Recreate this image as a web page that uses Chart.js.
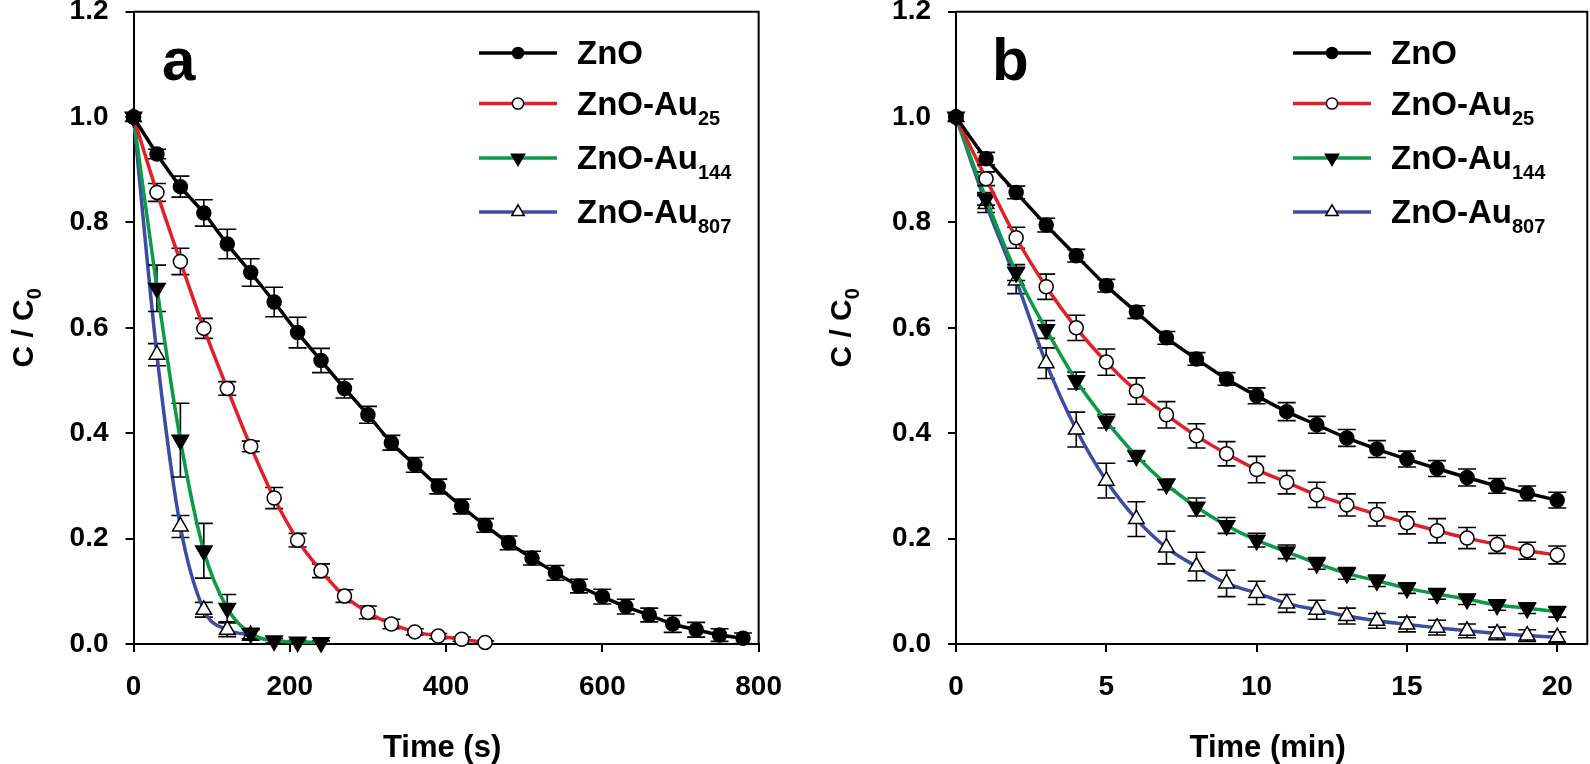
<!DOCTYPE html>
<html>
<head>
<meta charset="utf-8">
<title>C/C0 vs time, ZnO and ZnO-Au</title>
<script src="https://cdn.jsdelivr.net/npm/chart.js@4.4.1/dist/chart.umd.min.js"></script>
<style>
  html, body { margin: 0; padding: 0; background: #fff; }
  body { width: 1590px; height: 764px; position: relative; overflow: hidden; }
  canvas { position: absolute; top: -40px; }
  #panelA { left: 0; }
  #panelB { left: 800px; }
</style>
</head>
<body>
<canvas id="panelA" width="800" height="804"></canvas>
<canvas id="panelB" width="800" height="804"></canvas>
<script>
const FONT = "'Liberation Sans', Arial, Helvetica, sans-serif";

// axis ticks
const yTicks = [0, 0.2, 0.4, 0.6, 0.8, 1.0, 1.2];
const secTicks = [0, 200, 400, 600, 800];
const minTicks = [0, 5, 10, 15, 20];

// legend
const seriesNames = ["ZnO", "ZnO-Au", "ZnO-Au", "ZnO-Au"];
const seriesSubs = ["", "25", "144", "807"];

// panel a: time in s
const secZnO = [0, 30, 60, 90, 120, 150, 180, 210, 240, 270, 300, 330, 360, 390, 420, 450, 480, 510, 540, 570, 600, 630, 660, 690, 720, 750, 780];
const secAu25 = [0, 30, 60, 90, 120, 150, 180, 210, 240, 270, 300, 330, 360, 390, 420, 450];
const secAu144 = [0, 30, 60, 90, 120, 150, 180, 210, 240];
const secAu807 = [0, 30, 60, 90, 120, 150];

const aZnO = [1.0, 0.93, 0.868, 0.818, 0.759, 0.705, 0.649, 0.591, 0.538, 0.485, 0.435, 0.382, 0.340, 0.299, 0.261, 0.225, 0.192, 0.163, 0.135, 0.110, 0.090, 0.071, 0.055, 0.038, 0.027, 0.017, 0.011];
const aZnOErr = [0, 0.009, 0.02, 0.025, 0.028, 0.026, 0.028, 0.029, 0.023, 0.018, 0.016, 0.014, 0.014, 0.014, 0.014, 0.013, 0.013, 0.013, 0.014, 0.013, 0.014, 0.014, 0.013, 0.016, 0.014, 0.012, 0.01];
const aAu25 = [1.0, 0.857, 0.726, 0.599, 0.485, 0.375, 0.277, 0.197, 0.139, 0.091, 0.060, 0.038, 0.023, 0.015, 0.009, 0.003];
const aAu25Err = [0, 0.017, 0.025, 0.019, 0.013, 0.01, 0.02, 0.013, 0.013, 0.012, 0.012, 0.009, 0.006, 0.005, 0.004, 0.003];
const aAu144 = [1.0, 0.675, 0.387, 0.177, 0.068, 0.020, 0.006, 0.004, 0.003];
const aAu144Err = [0, 0.044, 0.07, 0.052, 0.026, 0.01, 0.004, 0.003, 0.003];
const aAu807 = [1.0, 0.549, 0.223, 0.065, 0.027, 0.017];
const aAu807Err = [0, 0.021, 0.021, 0.014, 0.013, 0.01];

// panel b: time in min
const minAll = [0, 1, 2, 3, 4, 5, 6, 7, 8, 9, 10, 11, 12, 13, 14, 15, 16, 17, 18, 19, 20];

const bZnO = [1.0, 0.921, 0.857, 0.795, 0.737, 0.680, 0.630, 0.581, 0.541, 0.503, 0.471, 0.441, 0.416, 0.391, 0.370, 0.351, 0.333, 0.316, 0.300, 0.286, 0.273];
const bZnOErr = [0, 0.012, 0.012, 0.013, 0.012, 0.012, 0.012, 0.012, 0.012, 0.012, 0.015, 0.017, 0.016, 0.016, 0.016, 0.015, 0.015, 0.016, 0.014, 0.014, 0.015];
const bAu25 = [1.0, 0.883, 0.771, 0.678, 0.600, 0.535, 0.480, 0.435, 0.395, 0.361, 0.331, 0.307, 0.283, 0.264, 0.246, 0.230, 0.215, 0.201, 0.189, 0.177, 0.169];
const bAu25Err = [0, 0.013, 0.02, 0.024, 0.024, 0.025, 0.025, 0.025, 0.023, 0.023, 0.025, 0.022, 0.024, 0.021, 0.022, 0.021, 0.023, 0.020, 0.017, 0.016, 0.017];
const bAu144 = [1.0, 0.845, 0.705, 0.597, 0.500, 0.423, 0.357, 0.303, 0.260, 0.225, 0.197, 0.175, 0.153, 0.134, 0.120, 0.106, 0.095, 0.085, 0.074, 0.068, 0.061];
const bAu144Err = [0, 0.012, 0.015, 0.017, 0.016, 0.013, 0.01, 0.01, 0.017, 0.015, 0.013, 0.013, 0.011, 0.011, 0.011, 0.01, 0.01, 0.01, 0.01, 0.01, 0.01];
const bAu807 = [1.0, 0.835, 0.690, 0.533, 0.407, 0.310, 0.237, 0.183, 0.147, 0.115, 0.097, 0.077, 0.065, 0.053, 0.044, 0.037, 0.031, 0.025, 0.020, 0.016, 0.013];
const bAu807Err = [0, 0.016, 0.025, 0.029, 0.033, 0.033, 0.033, 0.031, 0.027, 0.025, 0.022, 0.017, 0.018, 0.015, 0.014, 0.014, 0.014, 0.013, 0.012, 0.011, 0.01];

// look of each series
const lineColors = ["#000000", "#e41e26", "#0c9a47", "#3a4ca3"];
const markerStyles = ["circle", "circle", "triangle", "triangle"];
const markerRotation = [0, 0, 180, 0];
const markerFill = ["#000000", "#ffffff", "#000000", "#ffffff"];
const markerRadius = [7, 7, 9.5, 9];

function drawMarker(ctx, k, x, y, scale) {
  const r = markerRadius[k] * scale;
  ctx.beginPath();
  if (markerStyles[k] === "circle") {
    ctx.arc(x, y, r, 0, Math.PI * 2);
  } else {
    const edge = r * Math.sqrt(3);
    const s = markerRotation[k] ? -1 : 1;
    ctx.moveTo(x - edge / 2, y + s * r / 2);
    ctx.lineTo(x + edge / 2, y + s * r / 2);
    ctx.lineTo(x, y - s * r);
    ctx.closePath();
  }
  ctx.fillStyle = markerFill[k];
  ctx.fill();
  ctx.lineWidth = 1.5;
  ctx.strokeStyle = "#000";
  ctx.stroke();
}

function drawSubText(ctx, x, y, main, sub, size, subSize, drop) {
  ctx.font = `bold ${size}px ${FONT}`;
  ctx.fillText(main, x, y);
  const w = ctx.measureText(main).width;
  if (sub) {
    ctx.font = `bold ${subSize}px ${FONT}`;
    ctx.fillText(sub, x + w, y + drop);
  }
}

const errorBars = {
  id: "errorBars",
  beforeDatasetDraw(chart, args) {
    const ds = chart.data.datasets[args.index];
    if (!ds.errors) return;
    const { ctx } = chart;
    const yScale = chart.scales.y;
    ctx.save();
    ctx.strokeStyle = "#000";
    ctx.lineWidth = 1.6;
    args.meta.data.forEach((el, i) => {
      const e = ds.errors[i];
      if (!e) return;
      const v = ds.data[i].y;
      const top = yScale.getPixelForValue(v + e);
      const bot = yScale.getPixelForValue(Math.max(v - e, 0));
      ctx.beginPath();
      ctx.moveTo(el.x, top);
      ctx.lineTo(el.x, bot);
      ctx.moveTo(el.x - 9, top);
      ctx.lineTo(el.x + 9, top);
      ctx.moveTo(el.x - 9, bot);
      ctx.lineTo(el.x + 9, bot);
      ctx.stroke();
    });
    ctx.restore();
  }
};

const panelDecor = {
  id: "panelDecor",
  afterDraw(chart, args, opts) {
    const { ctx, chartArea } = chart;
    const { left, right, top, bottom } = chartArea;
    ctx.save();
    ctx.strokeStyle = "#000";
    ctx.lineWidth = 2;
    ctx.beginPath();
    ctx.moveTo(left, top);
    ctx.lineTo(right, top);
    ctx.lineTo(right, bottom);
    ctx.stroke();

    ctx.fillStyle = "#000";
    ctx.textBaseline = "alphabetic";
    ctx.textAlign = "left";
    ctx.font = `bold 60px ${FONT}`;
    ctx.fillText(opts.letter, left + opts.letterX, top + 68);

    // legend
    opts.legendRows.forEach((rowY, k) => {
      const y = top + rowY;
      ctx.strokeStyle = lineColors[k];
      ctx.lineWidth = 3.5;
      ctx.beginPath();
      ctx.moveTo(left + opts.legendX, y);
      ctx.lineTo(left + opts.legendX + 78, y);
      ctx.stroke();
      drawMarker(ctx, k, left + opts.legendX + 39, y, 0.8);
      ctx.fillStyle = "#000";
      drawSubText(ctx, left + opts.legendX + 98, y + 11, seriesNames[k], seriesSubs[k], 33, 20, 10);
    });

    // x title
    ctx.textAlign = "center";
    ctx.textBaseline = "middle";
    ctx.font = `bold 31px ${FONT}`;
    ctx.fillText(opts.xTitle, (left + right) / 2 - 4, bottom + 104);

    // y title, C / C0
    ctx.translate(left + opts.yTitleX, (top + bottom) / 2);
    ctx.rotate(-Math.PI / 2);
    ctx.textAlign = "left";
    ctx.textBaseline = "alphabetic";
    ctx.font = `bold 30px ${FONT}`;
    const mainW = ctx.measureText("C / C").width;
    ctx.font = `bold 20px ${FONT}`;
    const subW = ctx.measureText("0").width;
    drawSubText(ctx, -(mainW + subW) / 2, 11, "C / C", "0", 30, 20, 8);
    ctx.restore();
  }
};

function buildDatasets(xsList, ysList, errList) {
  return ysList.map((ys, k) => ({
    label: seriesNames[k] + seriesSubs[k],
    data: xsList[k].map((x, i) => ({ x, y: ys[i] })),
    errors: errList[k],
    borderColor: lineColors[k],
    borderWidth: 3.5,
    cubicInterpolationMode: "monotone",
    pointStyle: markerStyles[k],
    pointRotation: markerRotation[k],
    pointRadius: markerRadius[k],
    pointBackgroundColor: markerFill[k],
    pointBorderColor: "#000",
    pointBorderWidth: 1.5,
    clip: false
  }));
}

function axisOptions(tickList, min, max, format, fitSize, isY) {
  return {
    type: "linear",
    min,
    max,
    afterBuildTicks: (scale) => { scale.ticks = tickList.map((value) => ({ value })); },
    afterFit: (scale) => { if (isY) scale.width = fitSize; else scale.height = fitSize; },
    ticks: { color: "#000", font: { family: FONT, size: 28, weight: "bold" }, padding: isY ? 17 : 18, callback: format, maxRotation: 0 },
    grid: { drawOnChartArea: false, color: "#000", lineWidth: 2, tickLength: 8 },
    border: { color: "#000", width: 2 }
  };
}

function makePanel(canvasId, xsList, ysList, errList, xTickList, xMax, yAxisWidth, rightPad, decor) {
  return new Chart(document.getElementById(canvasId), {
    type: "line",
    data: { datasets: buildDatasets(xsList, ysList, errList) },
    options: {
      responsive: false,
      animation: false,
      events: [],
      devicePixelRatio: 1,
      layout: { padding: { top: 51.7, right: rightPad, left: 0, bottom: 0 } },
      scales: {
        x: axisOptions(xTickList, 0, xMax, (value) => String(value), 120, false),
        y: axisOptions(yTicks, 0, 1.2, (value) => value.toFixed(1), yAxisWidth, true)
      },
      plugins: { legend: { display: false }, tooltip: { enabled: false }, panelDecor: decor }
    },
    plugins: [errorBars, panelDecor]
  });
}

makePanel(
  "panelA",
  [secZnO, secAu25, secAu144, secAu807],
  [aZnO, aAu25, aAu144, aAu807],
  [aZnOErr, aAu25Err, aAu144Err, aAu807Err],
  secTicks, 800, 133.5, 33.3,
  { letter: "a", letterX: 28.5, legendX: 345.5, legendRows: [41.3, 91.8, 146.3, 200.3], xTitle: "Time (s)", yTitleX: -111.5 }
);

makePanel(
  "panelB",
  [minAll, minAll, minAll, minAll],
  [bZnO, bAu25, bAu144, bAu807],
  [bZnOErr, bAu25Err, bAu144Err, bAu807Err],
  minTicks, 21, 156, 12.7,
  { letter: "b", letterX: 36, legendX: 337, legendRows: [41.3, 91.8, 146.3, 200.3], xTitle: "Time (min)", yTitleX: -116 }
);
</script>
</body>
</html>
